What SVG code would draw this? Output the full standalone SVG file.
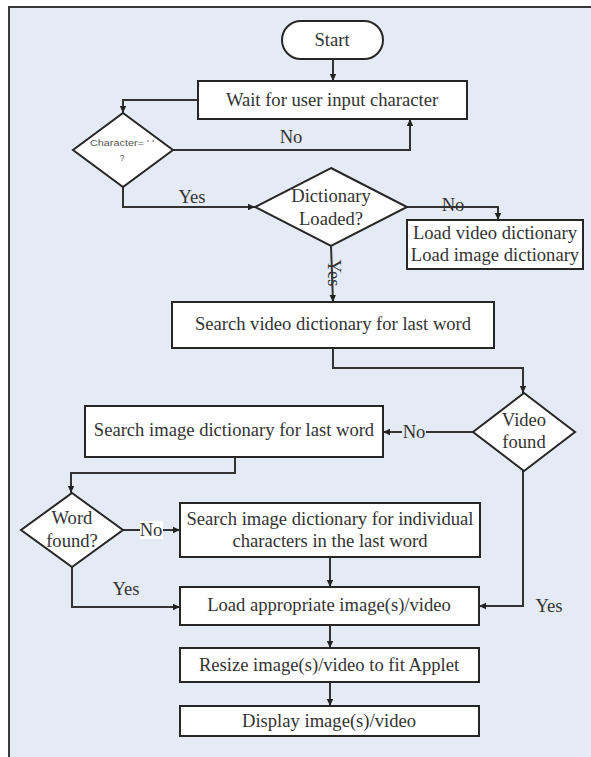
<svg xmlns="http://www.w3.org/2000/svg" width="591" height="757" viewBox="0 0 591 757">
  <style>
    .bg { fill: #e5ebf5; }
    .frame { fill: none; stroke: #3a3a3a; stroke-width: 2; }
    .box { fill: #ffffff; stroke: #262626; stroke-width: 2; }
    .wire { fill: none; stroke: #333333; stroke-width: 2; }
    .t { font-family: "Liberation Serif", "Times New Roman", serif; font-size: 18.6px; fill: #333333; text-anchor: middle; }
    .lbl { font-family: "Liberation Serif", "Times New Roman", serif; font-size: 17px; fill: #333333; text-anchor: middle; }
    .small { font-family: "Liberation Sans", Arial, sans-serif; font-size: 9px; fill: #555555; text-anchor: middle; }
  </style>
  <defs>
    <marker id="arrow" markerWidth="8" markerHeight="8" refX="7" refY="4" orient="auto" markerUnits="userSpaceOnUse">
      <path d="M0,0.8 L7,4 L0,7.2 Z" fill="#222222"/>
    </marker>
  </defs>

  <!-- page background and frame -->
  <rect x="0" y="0" width="591" height="757" fill="#ffffff"/>
  <rect class="bg" x="9" y="7" width="582" height="750"/>
  <path class="frame" d="M9,757 L9,7 L591,7"/>

  <!-- connectors -->
  <g id="connectors">
    <path class="wire" d="M333,59 L333,81" marker-end="url(#arrow)"/>
    <path class="wire" d="M198,100 L123,100 L123,113" marker-end="url(#arrow)"/>
    <path class="wire" d="M173,150 L410,150 L410,119" marker-end="url(#arrow)"/>
    <path class="wire" d="M123,187 L123,207 L255,207" marker-end="url(#arrow)"/>
    <path class="wire" d="M407,207 L498,207 L498,220" marker-end="url(#arrow)"/>
    <path class="wire" d="M331,246 L333,302" marker-end="url(#arrow)"/>
    <path class="wire" d="M333,348 L333,368 L523,368 L523,393" marker-end="url(#arrow)"/>
    <path class="wire" d="M473,432 L383,432" marker-end="url(#arrow)"/>
    <path class="wire" d="M235,457 L235,473 L71,473 L71,493" marker-end="url(#arrow)"/>
    <path class="wire" d="M123,530 L180,530" marker-end="url(#arrow)"/>
    <path class="wire" d="M330,557 L330,587" marker-end="url(#arrow)"/>
    <path class="wire" d="M72,567 L72,607 L180,607" marker-end="url(#arrow)"/>
    <path class="wire" d="M523,471 L523,606 L479,606" marker-end="url(#arrow)"/>
    <path class="wire" d="M330,625 L330,648" marker-end="url(#arrow)"/>
    <path class="wire" d="M330,682 L330,706" marker-end="url(#arrow)"/>

    <!-- branch labels -->
    <text class="t" x="291" y="143">No</text>
    <text class="t" x="192" y="203">Yes</text>
    <text class="t" x="453" y="211">No</text>
    <text class="t" transform="translate(328,273) rotate(90)">Yes</text>
    <rect class="bg" x="402" y="424" width="24" height="16"/>
    <text class="t" x="414" y="438">No</text>
    <rect x="140" y="521" width="23" height="18" fill="#ffffff"/>
    <text class="t" x="151" y="536">No</text>
    <text class="t" x="126" y="595">Yes</text>
    <text class="t" x="549" y="612">Yes</text>
  </g>

  <!-- nodes -->
  <g id="start">
    <rect class="box" x="282" y="21" width="101" height="38" rx="19"/>
    <text class="t" x="332" y="46">Start</text>
  </g>
  <g id="wait-input">
    <rect class="box" x="198" y="81" width="269" height="38"/>
    <text class="t" x="332" y="106">Wait for user input character</text>
  </g>
  <g id="check-character">
    <path class="box" d="M123,113 L173,150 L123,187 L73,150 Z"/>
    <text class="small" x="122" y="146" textLength="64" lengthAdjust="spacingAndGlyphs">Character= ' '</text>
    <text class="small" x="122" y="161">?</text>
  </g>
  <g id="dictionary-loaded">
    <path class="box" d="M331,168 L407,207 L331,246 L255,207 Z"/>
    <text class="t" x="331" y="202">Dictionary</text>
    <text class="t" x="331" y="225">Loaded?</text>
  </g>
  <g id="load-dictionaries">
    <rect class="box" x="407" y="220" width="176" height="49"/>
    <text class="t" x="495" y="239">Load video dictionary</text>
    <text class="t" x="495" y="261">Load image dictionary</text>
  </g>
  <g id="search-video">
    <rect class="box" x="172" y="302" width="322" height="46"/>
    <text class="t" x="333" y="330">Search video dictionary for last word</text>
  </g>
  <g id="video-found">
    <path class="box" d="M524,393 L575,432 L524,471 L473,432 Z"/>
    <text class="t" x="524" y="426">Video</text>
    <text class="t" x="524" y="448">found</text>
  </g>
  <g id="search-image">
    <rect class="box" x="85" y="406" width="298" height="51"/>
    <text class="t" x="234" y="436">Search image dictionary for last word</text>
  </g>
  <g id="word-found">
    <path class="box" d="M72,493 L123,530 L72,567 L21,530 Z"/>
    <text class="t" x="72" y="524">Word</text>
    <text class="t" x="72" y="547">found?</text>
  </g>
  <g id="search-characters">
    <rect class="box" x="180" y="503" width="300" height="54"/>
    <text class="t" x="330" y="525">Search image dictionary for individual</text>
    <text class="t" x="330" y="547">characters in the last word</text>
  </g>
  <g id="load-media">
    <rect class="box" x="180" y="587" width="299" height="38"/>
    <text class="t" x="329" y="611">Load appropriate image(s)/video</text>
  </g>
  <g id="resize-media">
    <rect class="box" x="180" y="648" width="299" height="34"/>
    <text class="t" x="329" y="671">Resize image(s)/video to fit Applet</text>
  </g>
  <g id="display-media">
    <rect class="box" x="180" y="706" width="299" height="30"/>
    <text class="t" x="329" y="727">Display image(s)/video</text>
  </g>
</svg>
